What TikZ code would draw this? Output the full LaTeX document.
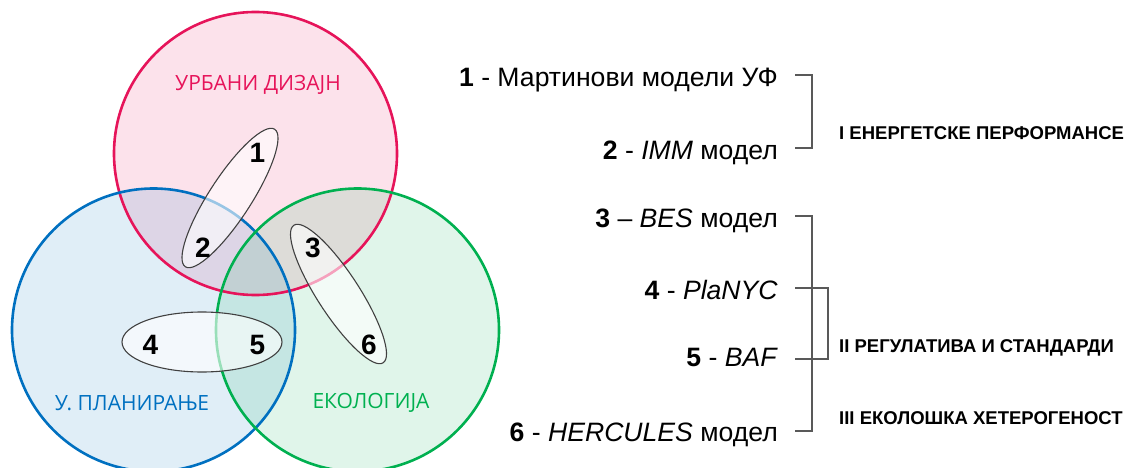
\documentclass[tikz,border=0pt]{standalone}
\usepackage{fontspec}
\setmainfont{Liberation Sans}
\newfontfamily\labelfont{Open Sans}
\usepackage{tikz}
\usetikzlibrary{shapes.geometric}
\usepackage{color,xcolor}

\definecolor{urbred}{RGB}{230,20,90}
\definecolor{planblue}{RGB}{0,112,192}
\definecolor{ecogreen}{RGB}{0,176,80}
\definecolor{brkgray}{RGB}{89,89,89}
\definecolor{ovalgray}{RGB}{64,64,64}

\begin{document}
\begin{tikzpicture}[x=1pt,y=-1pt,
    ovalbox/.style={draw=ovalgray, line width=1.1pt, fill=white, fill opacity=0.6, ellipse, inner sep=0pt},
    num/.style={font=\fontsize{28}{30}\selectfont\bfseries, anchor=base, inner sep=0pt},
    field/.style={font=\labelfont\fontsize{21}{24}\selectfont, anchor=base, inner sep=0pt},
    item/.style={font=\fontsize{26.6}{30}\selectfont, anchor=base east, inner sep=0pt},
    group/.style={font=\fontsize{18.5}{22}\selectfont\bfseries, anchor=base west, inner sep=0pt},
    brk/.style={brkgray, line width=2pt}]
        \useasboundingbox (0,0) rectangle (1134,468);

        % Draw the three circles, fills first and then their rims
        \foreach \cx/\cy/\col in {255.5/153.5/urbred, 153.5/330/planblue, 357.5/330/ecogreen} {
            \fill[\col, opacity=0.12] (\cx,\cy) circle (141.5);
        }
        \foreach \cx/\cy/\col in {255.5/153.5/urbred, 153.5/330/planblue, 357.5/330/ecogreen} {
            \draw[\col, line width=2.6pt] (\cx,\cy) circle (141.5);
        }

        % Field names
        \node[field, text=urbred] (urb) at (258,91) {УРБАНИ ДИЗАЈН};
        \node[field, text=planblue] (plan) at (132,410) {У. ПЛАНИРАЊЕ};
        \node[field, text=ecogreen] (eco) at (371,408) {ЕКОЛОГИЈА};

        % Ovals round the pairs of models
        \node[ovalbox, rotate=57, minimum width=164, minimum height=42] (o12) at (230,198) {};
        \node[ovalbox, rotate=-57, minimum width=164, minimum height=42] (o36) at (338.5,294) {};
        \node[ovalbox, minimum width=160, minimum height=60] (o45) at (202,342) {};

        % Model numbers
        \foreach \i/\x/\y in {1/257.5/162, 2/203/257, 3/313/257, 4/150.5/354, 5/257.5/354, 6/369/354} {
            \node[num] (n\i) at (\x,\y) {\i};
        }

        % List of models
        \node[item] (r1) at (778,87) {\textbf{1} - Мартинови модели УФ};
        \node[item] (r2) at (778,159) {\textbf{2} - \textit{IMM} модел};
        \node[item] (r3) at (778,227) {\textbf{3} – \textit{BES} модел};
        \node[item] (r4) at (778,299) {\textbf{4} - \textit{PlaNYC}};
        \node[item] (r5) at (778,366) {\textbf{5} - \textit{BAF}};
        \node[item] (r6) at (778,441) {\textbf{6} - \textit{HERCULES} модел};

        % Tick ends of the brackets
        \foreach \i/\y in {1/75, 2/148, 3/216, 4/288, 5/359, 6/431} {
            \coordinate (t\i) at (795,\y);
        }
        \draw[brk] (t1) -- ++(17,0) |- (t2);
        \draw[brk] (t3) -- ++(17,0) |- (t6);
        \draw[brk] (t4) -- ++(33,0) |- (t5);

        % Groups
        \node[group] (g1) at (839,139.5) {I ЕНЕРГЕТСКЕ ПЕРФОРМАНСЕ};
        \node[group] (g2) at (839,352.5) {II РЕГУЛАТИВА И СТАНДАРДИ};
        \node[group] (g3) at (839,424.5) {III ЕКОЛОШКА ХЕТЕРОГЕНОСТ};
    \end{tikzpicture}
\end{document}
